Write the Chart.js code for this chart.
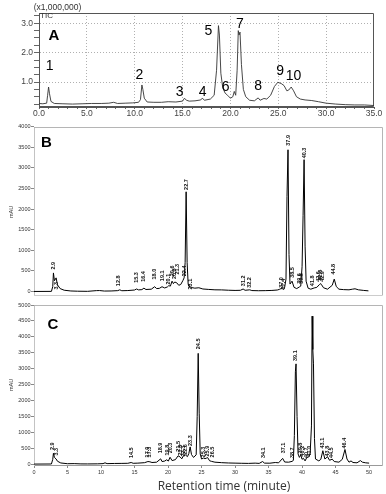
<!DOCTYPE html>
<html><head><meta charset="utf-8">
<script src="https://cdn.jsdelivr.net/npm/chart.js@4.4.1/dist/chart.umd.min.js"></script>
<style>
html,body{margin:0;padding:0;background:#fff;width:386px;height:494px;overflow:hidden}
.p{position:absolute;left:0;width:386px}
canvas{display:block}
</style></head><body>
<div class="p" style="top:0;height:122px"><canvas id="ca" width="386" height="122"></canvas></div>
<div class="p" style="top:120px;height:180px"><canvas id="cb" width="386" height="180"></canvas></div>
<div class="p" style="top:300px;height:194px"><canvas id="cc" width="386" height="194"></canvas></div>
<script>
// ---------- DATA ----------
// Panel A: TIC (x1,000,000) vs time (min)
const aTrace = [[0.0,0.27],[0.4,0.26],[0.8,0.28],[0.9,0.55],[1.0,0.83],[1.1,0.6],[1.25,0.34],[1.6,0.27],[2.5,0.26],[3.5,0.25],[4.5,0.26],[5.5,0.27],[6.5,0.27],[7.3,0.28],[7.8,0.31],[8.2,0.27],[9.0,0.28],[9.8,0.29],[10.4,0.31],[10.6,0.4],[10.75,0.9],[10.85,0.75],[11.0,0.45],[11.3,0.32],[12.0,0.31],[12.8,0.31],[13.5,0.33],[14.3,0.32],[15.0,0.35],[15.2,0.45],[15.4,0.38],[15.7,0.35],[16.3,0.36],[16.9,0.39],[17.05,0.45],[17.3,0.38],[17.9,0.42],[18.3,0.55],[18.55,1.4],[18.75,2.92],[18.85,2.6],[19.0,1.3],[19.2,0.8],[19.45,0.62],[19.7,0.55],[20.0,0.45],[20.25,0.5],[20.4,0.68],[20.55,0.55],[20.7,1.4],[20.82,2.75],[20.9,2.6],[21.0,2.7],[21.15,1.6],[21.35,0.75],[21.6,0.5],[22.0,0.38],[22.5,0.36],[22.9,0.46],[23.1,0.38],[23.5,0.44],[23.8,0.42],[24.2,0.55],[24.6,0.85],[24.95,0.99],[25.3,0.95],[25.6,0.88],[25.9,0.7],[26.1,0.73],[26.35,0.83],[26.6,0.7],[26.9,0.5],[27.3,0.42],[27.8,0.39],[28.5,0.37],[29.2,0.33],[30.0,0.28],[31.0,0.25],[32.0,0.23],[33.0,0.22],[34.0,0.22],[35.0,0.2]];
const aPeakText = ["1","2","3","4","5","6","7","8","9","10"];
const aPeakTime = [1.1,10.5,14.7,17.1,17.7,19.5,21.0,22.9,25.2,26.6];
const aPeakValue = [1.54,1.25,0.66,0.66,2.74,0.83,2.97,0.85,1.37,1.2];

// Panel B: mAU vs time (min)
const bTrace = [[0,0],[2.6,2],[2.8,120],[2.9,450],[3.05,260],[3.3,330],[3.5,160],[3.9,70],[4.5,30],[5.5,12],[6.5,6],[8,3],[9.3,20],[9.8,22],[10.5,10],[11.5,12],[12.5,20],[12.8,40],[13.1,18],[14,22],[15,35],[15.3,60],[15.6,38],[16.1,45],[16.4,80],[16.7,48],[17.5,55],[18.0,115],[18.3,70],[18.7,75],[19.1,115],[19.5,85],[19.9,110],[20.1,140],[20.35,130],[20.6,250],[20.8,190],[21.0,230],[21.3,210],[21.6,150],[21.9,170],[22.2,260],[22.4,330],[22.55,700],[22.7,2420],[22.85,700],[23.0,180],[23.1,130],[23.5,95],[24.0,80],[24.6,90],[25.2,60],[26,50],[27,40],[28,38],[29,30],[30,25],[30.8,28],[31.2,60],[31.5,28],[32.2,40],[32.5,22],[33.5,18],[34.5,20],[35.5,25],[36.3,35],[36.6,50],[37.0,80],[37.2,45],[37.4,100],[37.6,300],[37.75,2300],[37.9,3440],[38.05,900],[38.2,180],[38.5,250],[38.8,100],[39.2,70],[39.6,110],[39.8,130],[40.0,600],[40.15,1850],[40.3,3200],[40.45,1100],[40.6,250],[40.9,80],[41.3,55],[41.8,85],[42.2,100],[42.6,170],[42.8,190],[42.9,165],[43.2,90],[43.8,55],[44.5,150],[44.8,300],[45.1,120],[45.5,55],[46.2,45],[47.0,40],[47.5,55],[47.9,65],[48.4,40],[49.2,25],[49.9,15]];
const bPeakText = ["2.9","3.3","12.8","15.3","16.4","18.0","19.1","20.1","20.6","20.8","21.3","22.4","22.7","23.1","31.2","32.2","37.0","37.4","37.9","38.5","39.6","39.8","40.3","41.8","42.6","42.8","42.9","44.8"];
const bPeakTime = [2.9,3.4,12.6,15.3,16.4,18.0,19.1,20.0,20.6,20.9,21.4,22.5,22.8,23.4,31.2,32.2,37.0,37.3,37.9,38.5,39.6,39.9,40.3,41.6,42.4,42.7,43.0,44.7];
const bPeakBase = [532,48,129,210,234,290,250,170,370,300,410,370,2466,48,129,89,89,48,3538,330,185,185,3232,129,234,266,234,411];

// Panel C: mAU vs time (min)
const cTrace = [[0,0],[2.6,3],[2.8,150],[2.9,340],[3.05,210],[3.3,160],[3.5,90],[4,35],[5,12],[6,15],[7,6],[8,5],[9.5,8],[10.3,15],[10.6,40],[10.9,15],[12,20],[13,22],[14,25],[14.5,50],[14.8,25],[15.5,30],[16.5,45],[17.0,80],[17.3,72],[17.6,50],[18.3,60],[18.9,165],[19.1,80],[19.5,95],[19.8,135],[20.05,95],[20.3,215],[20.6,110],[21.1,140],[21.5,260],[21.8,225],[22.05,165],[22.3,260],[22.6,285],[22.9,235],[23.1,330],[23.3,540],[23.5,300],[23.8,210],[24.2,290],[24.35,1500],[24.5,3480],[24.65,1600],[24.8,320],[25.0,160],[25.3,190],[25.5,170],[25.7,185],[25.9,205],[26.2,105],[26.5,85],[27,60],[28,45],[29,35],[30,30],[31,25],[32,22],[33,30],[33.6,22],[34.1,80],[34.4,30],[35.2,28],[36,50],[36.5,40],[37.1,180],[37.4,65],[38,60],[38.5,85],[38.7,115],[38.85,900],[39.0,2900],[39.1,3150],[39.25,1500],[39.4,320],[39.6,210],[39.8,290],[40.0,150],[40.2,185],[40.45,100],[40.7,205],[41.0,225],[41.2,320],[41.4,1200],[41.5,4650],[41.6,3600],[41.7,3150],[41.85,800],[42.0,160],[42.5,100],[42.8,150],[43.1,420],[43.4,160],[43.8,230],[44.1,120],[44.5,155],[44.8,80],[45.5,60],[46.0,150],[46.4,460],[46.7,160],[47.0,60],[47.3,100],[47.6,50],[48.2,40],[48.7,110],[49.0,60],[49.5,40],[50,30]];
const cPeakText = ["2.9","3.3","14.5","17.0","17.3","18.9","19.8","20.3","21.5","21.8","22.3","22.6","23.3","24.5","25.3","25.9","26.5","34.1","37.1","38.7","39.1","39.8","40.2","40.7","41.0","43.1","43.8","44.5","46.4"];
const cPeakTime = [2.8,3.4,14.6,17.0,17.3,18.9,19.9,20.3,21.5,21.8,22.3,22.6,23.3,24.6,25.3,25.9,26.6,34.2,37.2,38.6,39.0,39.8,40.1,40.6,41.1,43.0,43.8,44.4,46.4];
const cPeakBase = [440,270,190,210,210,340,270,340,390,270,240,290,570,3610,210,240,210,190,340,190,3240,340,240,190,240,490,240,190,490];

// tick values
const aXTicks = [0,5,10,15,20,25,30,35];
const aYTicks = [1.0,2.0,3.0];
const bYTicks = [0,500,1000,1500,2000,2500,3000,3500,4000];
const cYTicks = [0,500,1000,1500,2000,2500,3000,3500,4000,4500,5000];
const bcXTicks = [0,5,10,15,20,25,30,35,40,45,50];

// ---------- helpers ----------
const toPts = arr => arr.map(p => ({x:p[0], y:p[1]}));
const FONT = '"Liberation Sans", Arial, sans-serif';

function rangeTicks(lo, hi, step){const r=[];for(let i=0;;i++){const v=+(lo+i*step).toFixed(4);if(v>hi+1e-9)break;r.push(v);}return r;}

const framePlugin = {
  id:'frame',
  beforeDatasetsDraw(chart, args, o){
    const {ctx, chartArea:a} = chart;
    ctx.save();
    ctx.lineWidth = 1;
    const line=(x1,y1,x2,y2,col,dash)=>{ctx.beginPath();ctx.strokeStyle=col;ctx.setLineDash(dash||[]);ctx.moveTo(x1,y1);ctx.lineTo(x2,y2);ctx.stroke();};
    const L=Math.round(a.left)+0.5, R=Math.round(a.right)-0.5, T=Math.round(a.top)+0.5, B=Math.round(a.bottom)-0.5;
    line(L,T,R,T,o.top);
    line(R,T,R,B,o.right);
    line(L,B,R,B,o.bottom,o.bottomDash);
    line(L,T,L,B,o.left,o.leftDash);
    ctx.restore();
  }
};

const textPlugin = {
  id:'texts',
  afterDraw(chart, args, o){
    const ctx = chart.ctx;
    ctx.save();
    (o.items||[]).forEach(it=>{
      ctx.font = it.font; ctx.fillStyle = it.color||'#000';
      ctx.textAlign = it.align||'center'; ctx.textBaseline='middle';
      if(it.rot){ctx.save();ctx.translate(it.x,it.y);ctx.rotate(-Math.PI/2);ctx.fillText(it.text,0,0);ctx.restore();}
      else ctx.fillText(it.text,it.x,it.y);
    });
    ctx.restore();
  }
};

const peakPlugin = {
  id:'peaks',
  afterDatasetsDraw(chart, args, o){
    if(!o.text) return;
    const {ctx, scales:{x,y}} = chart;
    ctx.save();
    ctx.font = o.font; ctx.fillStyle = o.color||'#000';
    o.text.forEach((t,i)=>{
      const px = x.getPixelForValue(o.xs[i]);
      const py = y.getPixelForValue(o.ys[i]);
      if(o.rotate){
        ctx.save();ctx.translate(px,py);ctx.rotate(-Math.PI/2);
        ctx.textAlign='left';ctx.textBaseline='middle';ctx.fillText(t,0,0);ctx.restore();
      } else {
        ctx.textAlign='center';ctx.textBaseline='middle';ctx.fillText(t,px,py);
      }
    });
    ctx.restore();
  }
};

function baseDataset(pts){
  return {data:toPts(pts), borderColor:'#000', borderWidth:1, pointRadius:0, tension:0, fill:false};
}

// ---------- Panel A ----------
new Chart(document.getElementById('ca'), {
  type:'line',
  data:{datasets:[Object.assign(baseDataset(aTrace),{borderColor:'#333', borderWidth:0.9})]},
  plugins:[framePlugin, textPlugin, peakPlugin],
  options:{
    responsive:false, animation:false, events:[],
    layout:{padding:{top:13,right:12,left:0,bottom:0}},
    plugins:{
      legend:{display:false}, tooltip:{enabled:false},
      frame:{top:'#555',right:'#555',bottom:'#555',left:'#555'},
      peaks:{text:aPeakText, xs:aPeakTime, ys:aPeakValue, font:'14px '+FONT, color:'#000'},
      texts:{items:[
        {text:'(x1,000,000)', x:57.5, y:8, font:'8.5px '+FONT, color:'#333'},
        {text:'TIC', x:46.5, y:15.5, font:'8px '+FONT, color:'#333'},
        {text:'A', x:54, y:35.5, font:'bold 15px '+FONT, color:'#000'}
      ]}
    },
    scales:{
      x:{type:'linear', min:0, max:35,
        afterFit:s=>{s.height=15;},
        afterBuildTicks:s=>{s.ticks=rangeTicks(0,35,1).map(v=>({value:v}));},
        ticks:{autoSkip:false, maxRotation:0, padding:0, color:'#444', font:{family:FONT,size:8.5},
          callback:v=>aXTicks.includes(v)?v.toFixed(1):''},
        grid:{color:c=>(c.tick&&aXTicks.includes(c.tick.value)&&c.tick.value>0&&c.tick.value<35)?'#b0b0b0':'rgba(0,0,0,0)', tickColor:'#666', tickLength:2, lineWidth:1},
        border:{display:true, color:'#555', dash:[1,2]}
      },
      y:{type:'linear', min:0.15, max:3.35,
        afterFit:s=>{s.width=39;},
        afterBuildTicks:s=>{s.ticks=rangeTicks(0.25,3.25,0.25).map(v=>({value:v}));},
        ticks:{autoSkip:false, padding:1, color:'#444', font:{family:FONT,size:8.5},
          callback:v=>aYTicks.includes(v)?v.toFixed(1):''},
        grid:{color:c=>(c.tick&&aYTicks.includes(c.tick.value))?'#b0b0b0':'rgba(0,0,0,0)', tickColor:'#666', tickLength:5, lineWidth:1},
        border:{display:true, color:'#555', dash:[1,2]}
      }
    }
  }
});

// ---------- Panels B and C ----------
function mauChart(id, trace, ymin, ymax, yTicks, padTop, xHeight, showX, peaks, texts){
  return new Chart(document.getElementById(id), {
    type:'line',
    data:{datasets:[baseDataset(trace)]},
    plugins:[framePlugin, textPlugin, peakPlugin],
    options:{
      responsive:false, animation:false, events:[],
      layout:{padding:{top:padTop,right:3.5,left:0,bottom:0}},
      plugins:{
        legend:{display:false}, tooltip:{enabled:false},
        frame:{top:'#b5b5b5',right:'#b5b5b5',bottom:'#999',left:'#888',leftDash:[1,1],bottomDash:showX?[]:[1,1]},
        peaks:peaks,
        texts:{items:texts}
      },
      scales:{
        x:{type:'linear', min:0, max:52,
          afterFit:s=>{s.height=xHeight;},
          afterBuildTicks:s=>{s.ticks=bcXTicks.map(v=>({value:v}));},
          ticks:{display:showX, autoSkip:false, maxRotation:0, padding:1, color:'#333', font:{family:FONT,size:5.5},
            callback:v=>String(v)},
          grid:{drawOnChartArea:false, drawTicks:showX, tickColor:'#888', tickLength:2},
          border:{display:false}
        },
        y:{type:'linear', min:ymin, max:ymax,
          afterFit:s=>{s.width=34;},
          afterBuildTicks:s=>{s.ticks=yTicks.map(v=>({value:v}));},
          ticks:{autoSkip:false, padding:0.5, color:'#333', font:{family:FONT,size:5.5},
            callback:v=>String(v)},
          grid:{drawOnChartArea:false, tickColor:'#888', tickLength:3},
          border:{display:false}
        }
      }
    }
  });
}

mauChart('cb', bTrace, -115, 4000, bYTicks, 6.7, 2, false,
  {text:bPeakText, xs:bPeakTime, ys:bPeakBase, rotate:true, font:'bold 5.5px '+FONT, color:'#111'},
  [
    {text:'B', x:46.5, y:23, font:'bold 15px '+FONT, color:'#000'},
    {text:'mAU', x:11, y:92, font:'5.5px '+FONT, color:'#333', rot:true}
  ]);

mauChart('cc', cTrace, -60, 5000, cYTicks, 5, 28, true,
  {text:cPeakText, xs:cPeakTime, ys:cPeakBase, rotate:true, font:'bold 5.5px '+FONT, color:'#111'},
  [
    {text:'C', x:53, y:25, font:'bold 15px '+FONT, color:'#000'},
    {text:'mAU', x:11, y:85, font:'5.5px '+FONT, color:'#333', rot:true},
    {text:'Retention time (minute)', x:224, y:186.5, font:'12px "Open Sans", "Noto Sans", sans-serif', color:'#333'}
  ]);
</script>
</body></html>
